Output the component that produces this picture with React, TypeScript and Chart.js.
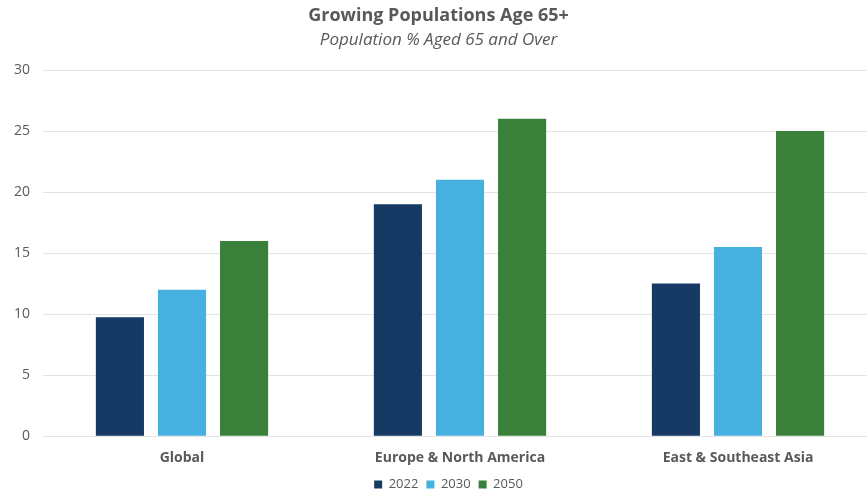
import React, { useEffect, useRef } from "react";
import { Chart, registerables } from "chart.js";

Chart.register(...registerables);

const categories = ["Global", "Europe & North America", "East & Southeast Asia"];
const seriesLabels = ["2022", "2030", "2050"];
const values2022 = [9.75, 19, 12.5];
const values2030 = [12, 21, 15.5];
const values2050 = [16, 26, 25];
const yTicks = [0, 5, 10, 15, 20, 25, 30];

const colors = ["#163A63", "#46B0E0", "#3A7F3A"];
const textColor = "#595959";
const font = "'Open Sans', 'Noto Sans', sans-serif";

const legendHeightPlugin = {
  id: "legendHeight",
  beforeLayout(chart: any) {
    const l = chart.legend;
    if (l && !l.__patched) {
      const orig = l.fit;
      l.fit = function () {
        orig.call(this);
        this.height = 16;
      };
      l.__patched = true;
    }
  },
  afterLayout(chart: any) {
    const l = chart.legend;
    if (l) {
      l.top -= 9;
      l.bottom = l.top + 30;
      l.height = 30;
      l.left += 10;
      l.right += 10;
    }
  },
};

export default function App() {
  const ref = useRef<HTMLCanvasElement | null>(null);

  useEffect(() => {
    if (!ref.current) return;
    const chart = new Chart(ref.current, {
      type: "bar",
      data: {
        labels: categories,
        datasets: [values2022, values2030, values2050].map((d, i) => ({
          label: seriesLabels[i],
          data: d,
          backgroundColor: colors[i],
          borderWidth: 0,
          categoryPercentage: 0.67,
          barPercentage: 0.775,
        })),
      },
      plugins: [legendHeightPlugin],
      options: {
        responsive: false,
        animation: false,
        devicePixelRatio: 1,
        layout: { padding: { left: 0, right: 3, top: 0, bottom: 0 } },
        plugins: {
          title: {
            display: true,
            text: "Growing Populations Age 65+",
            color: textColor,
            font: { family: font, size: 18, weight: "bold" },
            padding: { top: 5, bottom: 3 },
          },
          subtitle: {
            display: true,
            text: "Population % Aged 65 and Over",
            color: textColor,
            font: { family: font, size: 17, style: "italic" },
            padding: { top: 0, bottom: 20 },
          },
          legend: {
            position: "bottom",
            labels: {
              color: textColor,
              font: { family: font, size: 13 },
              boxWidth: 8,
              boxHeight: 8,
              padding: 8,
            },
          },
          tooltip: { enabled: false },
        },
        scales: {
          x: {
            grid: { display: false, drawTicks: false },
            border: { display: false },
            ticks: {
              color: textColor,
              font: { family: font, size: 14, weight: "bold" },
              padding: 13,
            },
          },
          y: {
            min: 0,
            max: 30,
            afterBuildTicks: (s: any) => {
              s.ticks = yTicks.map((v) => ({ value: v }));
            },
            afterFit: (s: any) => {
              s.width = 43;
            },
            grid: { color: "#e3e3e3", drawTicks: false },
            border: { display: false },
            ticks: {
              color: textColor,
              font: { family: font, size: 14 },
              padding: 13,
            },
          },
        },
      },
    });
    return () => chart.destroy();
  }, []);

  return (
    <div
      style={{
        position: "fixed",
        left: 0,
        top: 0,
        width: 867,
        height: 495,
        overflow: "hidden",
        background: "#fff",
      }}
    >
      <canvas ref={ref} width={880} height={495} style={{ display: "block" }} />
    </div>
  );
}
